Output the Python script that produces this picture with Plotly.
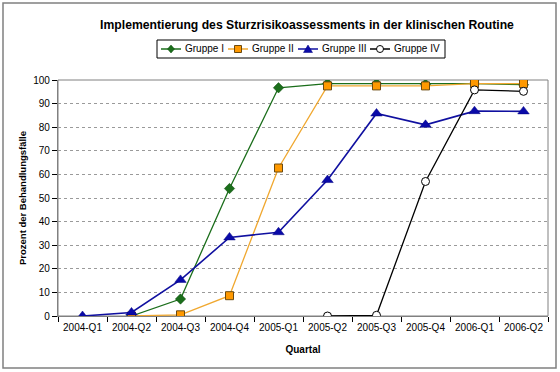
import plotly.graph_objects as go

quarters = ["2004-Q1", "2004-Q2", "2004-Q3", "2004-Q4", "2005-Q1", "2005-Q2",
            "2005-Q3", "2005-Q4", "2006-Q1", "2006-Q2"]
gruppe_1 = [None, 0, 7.2, 54, 96.7, 98.5, 98.5, 98.2, 98.5, 98]
gruppe_2 = [None, 0, 0.5, 8.6, 62.7, 97.5, 97.5, 97.5, 98.5, 98.5]
gruppe_3 = [0, 1.5, 15.3, 33.3, 35.5, 57.6, 85.8, 81, 86.8, 86.7]
gruppe_4 = [None, None, None, None, None, 0, 0.3, 57, 95.8, 95.2]
series_names = ["Gruppe I", "Gruppe II", "Gruppe III", "Gruppe IV"]

W, H = 560, 372
L, R, T, B = 58, 12, 80, 56
pw, ph = W - L - R, H - T - B

GREEN, ORANGE, ORANGE_EDGE, BLUE, BLACK = "#1b6e1b", "#ff9900", "#6b4a10", "#0a0aa8", "#000000"
ORANGE_LINE = "#f0a830"

fig = go.Figure()
fig.add_trace(go.Scatter(x=quarters, y=gruppe_1, name=series_names[0], mode="lines+markers",
                         line=dict(color=GREEN, width=1.3),
                         marker=dict(symbol="diamond", size=8, color=GREEN,
                                     line=dict(color="#0c4a0c", width=0.5))))
fig.add_trace(go.Scatter(x=quarters, y=gruppe_2, name=series_names[1], mode="lines+markers",
                         line=dict(color=ORANGE_LINE, width=1.3),
                         marker=dict(symbol="square", size=8, color=ORANGE,
                                     line=dict(color=ORANGE_EDGE, width=1))))
fig.add_trace(go.Scatter(x=quarters, y=gruppe_3, name=series_names[2], mode="lines+markers",
                         line=dict(color="#1010a0", width=1.6),
                         marker=dict(symbol="triangle-up", size=10, color=BLUE,
                                     line=dict(color="#000080", width=0.5))))
fig.add_trace(go.Scatter(x=quarters, y=gruppe_4, name=series_names[3], mode="lines+markers",
                         line=dict(color=BLACK, width=1.3),
                         marker=dict(symbol="circle", size=8, color="#ffffff",
                                     line=dict(color=BLACK, width=1))))


def px(x):
    return (x - L) / pw


def py(y):
    return (H - B - y) / ph


shapes = []
# outer chart border
shapes.append(dict(type="rect", xref="paper", yref="paper",
                   x0=px(3), x1=px(556), y0=py(368), y1=py(3),
                   line=dict(color="#808080", width=1.5), layer="below"))
# plot area border
shapes.append(dict(type="rect", xref="paper", yref="paper", x0=0, x1=1, y0=0, y1=1,
                   line=dict(color="#808080", width=1), layer="below"))

# manual compact legend (Excel style)
LEG_X0, LEG_X1, LEG_Y0, LEG_Y1 = 157, 445, 40, 58
LEG_YC = (LEG_Y0 + LEG_Y1) / 2
shapes.append(dict(type="rect", xref="paper", yref="paper",
                   x0=px(LEG_X0), x1=px(LEG_X1), y0=py(LEG_Y1), y1=py(LEG_Y0),
                   line=dict(color="#000000", width=1), fillcolor="white"))
legend_line_x = [161, 228, 298, 370]
legend_styles = [
    (GREEN, "diamond", GREEN),
    (ORANGE_LINE, "square", ORANGE),
    ("#1010a0", "triangle", BLUE),
    (BLACK, "circle", "#ffffff"),
]
annotations = []
for name, lx, (lcol, sym, fcol) in zip(series_names, legend_line_x, legend_styles):
    shapes.append(dict(type="line", xref="paper", yref="paper",
                       x0=px(lx), x1=px(lx + 20), y0=py(LEG_YC), y1=py(LEG_YC),
                       line=dict(color=lcol, width=1.5)))
    cx = lx + 10
    r = 3.5
    if sym == "diamond":
        path = (f"M {px(cx)} {py(LEG_YC - r - 0.5)} L {px(cx + r)} {py(LEG_YC)} "
                f"L {px(cx)} {py(LEG_YC + r + 0.5)} L {px(cx - r)} {py(LEG_YC)} Z")
        shapes.append(dict(type="path", xref="paper", yref="paper", path=path,
                           fillcolor=fcol, line=dict(color="#0c4a0c", width=0.5)))
    elif sym == "square":
        shapes.append(dict(type="rect", xref="paper", yref="paper",
                           x0=px(cx - r), x1=px(cx + r), y0=py(LEG_YC + r), y1=py(LEG_YC - r),
                           fillcolor=fcol, line=dict(color=ORANGE_EDGE, width=1)))
    elif sym == "triangle":
        path = (f"M {px(cx)} {py(LEG_YC - 4)} L {px(cx + 4.5)} {py(LEG_YC + 3.5)} "
                f"L {px(cx - 4.5)} {py(LEG_YC + 3.5)} Z")
        shapes.append(dict(type="path", xref="paper", yref="paper", path=path,
                           fillcolor=fcol, line=dict(color="#000080", width=0.5)))
    else:
        shapes.append(dict(type="circle", xref="paper", yref="paper",
                           x0=px(cx - r), x1=px(cx + r), y0=py(LEG_YC + r), y1=py(LEG_YC - r),
                           fillcolor=fcol, line=dict(color=BLACK, width=1)))
    annotations.append(dict(text=name, xref="paper", yref="paper",
                            x=px(lx + 22), y=py(LEG_YC), xanchor="left", yanchor="middle",
                            showarrow=False, font=dict(size=10), xshift=0))

fig.update_layout(
    width=W, height=H,
    margin=dict(l=L, r=R, t=T, b=B, autoexpand=False),
    paper_bgcolor="white", plot_bgcolor="white",
    font=dict(family="Liberation Sans, Arial", size=10, color="#000000"),
    title=dict(text="<b>Implementierung des Sturzrisikoassessments in der klinischen Routine</b>",
               x=307 / W, xanchor="center", y=1 - 25 / H, yanchor="middle",
               font=dict(size=12.2)),
    showlegend=False,
    shapes=shapes,
    annotations=annotations,
    xaxis=dict(type="category", range=[-0.5, 9.5], showline=True, linecolor="#808080",
               linewidth=1.2, ticks="outside", tickson="boundaries", ticklen=5,
               tickcolor="#000000", showgrid=False, tickfont=dict(size=10),
               ticklabelstandoff=2,
               title=dict(text="<b>Quartal</b>", font=dict(size=10), standoff=13),
               zeroline=False),
    yaxis=dict(range=[0, 100], dtick=10, showline=True, linecolor="#808080", linewidth=1.2,
               ticks="outside", ticklen=5, tickcolor="#000000", tickfont=dict(size=10),
               showgrid=True, gridcolor="#9a9a9a", griddash="3px,3px", gridwidth=1,
               zeroline=False,
               title=dict(text="<b>Prozent der Behandlungsfälle</b>", font=dict(size=9.5),
                          standoff=4)),
)

fig.write_html("out.html", config={"displayModeBar": False},
               post_script="document.body.style.margin='0px';")
